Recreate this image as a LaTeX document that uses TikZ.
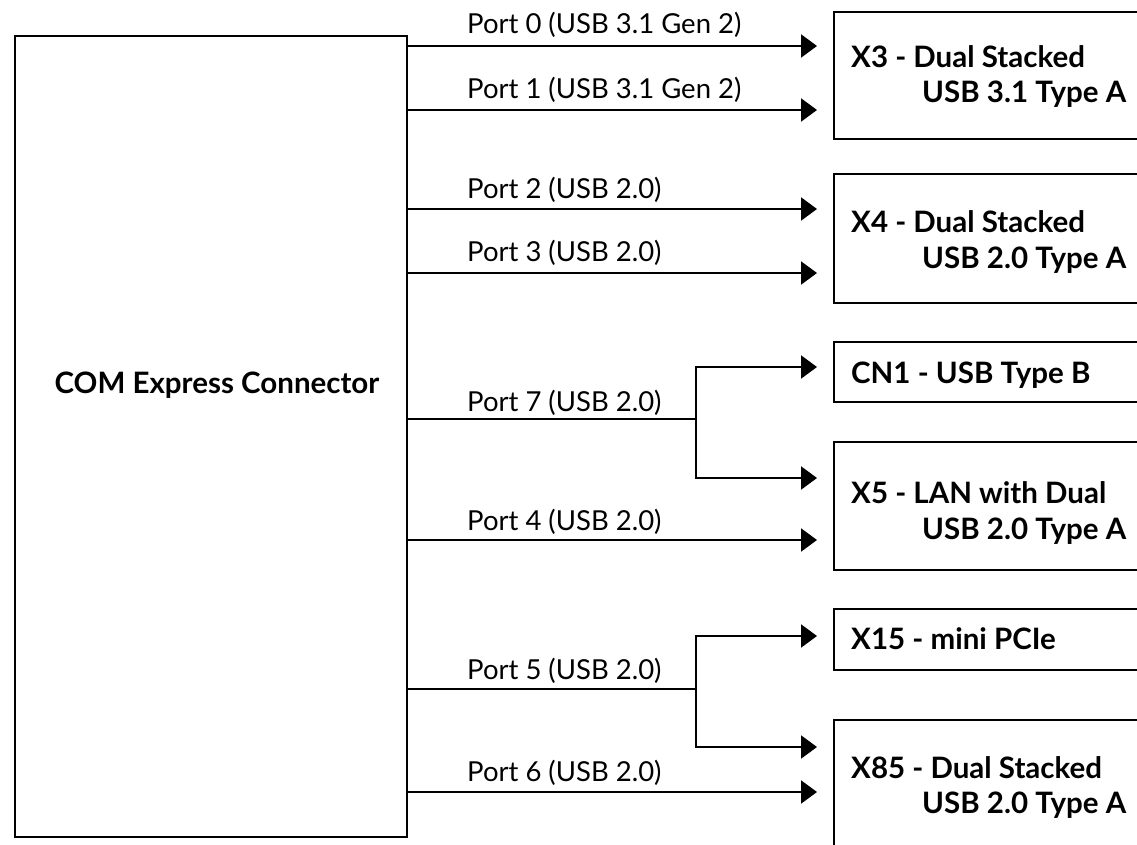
\documentclass[tikz,border=0pt]{standalone}
\usepackage{fontspec}
\setmainfont{Lato}
\usetikzlibrary{arrows.meta}
\tikzset{
  wire/.style={line width=2.2pt, draw=black},
  arr/.style={wire, -{Triangle[length=16pt,width=23pt]}, shorten >=16pt},
  box/.style={draw=black, line width=2.2pt, rectangle, anchor=north west, inner sep=0pt, minimum width=400pt},
  devtext/.style={font=\bfseries\fontsize{29.5}{34}\selectfont, anchor=base west, inner sep=0pt},
  porttext/.style={font=\fontsize{27.5}{32}\selectfont, anchor=base west, inner sep=0pt},
}
\begin{document}
\begin{tikzpicture}[x=1pt,y=-1pt]
\useasboundingbox (0,0) rectangle (1137,845);
\clip (0,0) rectangle (1137,845);
\fill[white] (0,0) rectangle (1137,845);
% main connector box
\node[box, minimum width=392pt, minimum height=801pt] (com) at (14,35) {};
\node[devtext, anchor=base] (comt) at (217,393) {COM Express Connector};
% device boxes
\node[box, minimum height=127pt] (x3) at (833,11) {};
\node[box, minimum height=129pt] (x4) at (833,173) {};
\node[box, minimum height=60pt] (cn1) at (833,341) {};
\node[box, minimum height=128pt] (x5) at (833,441) {};
\node[box, minimum height=61pt] (x15) at (833,608) {};
\node[box, minimum height=140pt] (x85) at (833,719) {};
% device labels
\node[devtext] (x3a) at (851,68) {X3 - Dual Stacked};
\node[devtext] (x3b) at (922,103) {USB 3.1 Type A};
\node[devtext] (x4a) at (851,233) {X4 - Dual Stacked};
\node[devtext] (x4b) at (922,268) {USB 2.0 Type A};
\node[devtext] (cn1a) at (851,383) {CN1 - USB Type B};
\node[devtext] (x5a) at (851,503) {X5 - LAN with Dual};
\node[devtext] (x5b) at (922,539) {USB 2.0 Type A};
\node[devtext] (x15a) at (851,649) {X15 - mini PCIe};
\node[devtext] (x85a) at (851,778) {X85 - Dual Stacked};
\node[devtext] (x85b) at (922,813) {USB 2.0 Type A};
% port labels
\node[porttext] (p0) at (467,34) {Port 0 (USB 3.1 Gen 2)};
\node[porttext] (p1) at (467,99) {Port 1 (USB 3.1 Gen 2)};
\node[porttext] (p2) at (467,198) {Port 2 (USB 2.0)};
\node[porttext] (p3) at (467,261) {Port 3 (USB 2.0)};
\node[porttext] (p7) at (467,411) {Port 7 (USB 2.0)};
\node[porttext] (p4) at (467,530) {Port 4 (USB 2.0)};
\node[porttext] (p5) at (467,679) {Port 5 (USB 2.0)};
\node[porttext] (p6) at (467,781) {Port 6 (USB 2.0)};
% branch points
\coordinate (b7) at (696,419);
\coordinate (b5) at (696,689);
% connectors
\draw[arr] (com.east |- 0,46) -- (x3.west |- 0,46);
\draw[arr] (com.east |- 0,110) -- (x3.west |- 0,110);
\draw[arr] (com.east |- 0,209) -- (x4.west |- 0,209);
\draw[arr] (com.east |- 0,273) -- (x4.west |- 0,273);
\draw[wire] (com.east |- b7) -- (b7);
\draw[arr] (b7) |- (cn1.west |- 0,367);
\draw[arr] (b7) |- (x5.west |- 0,478);
\draw[arr] (com.east |- 0,540) -- (x5.west |- 0,540);
\draw[wire] (com.east |- b5) -- (b5);
\draw[arr] (b5) |- (x15.west |- 0,636);
\draw[arr] (b5) |- (x85.west |- 0,747);
\draw[arr] (com.east |- 0,792) -- (x85.west |- 0,792);
\end{tikzpicture}
\end{document}
